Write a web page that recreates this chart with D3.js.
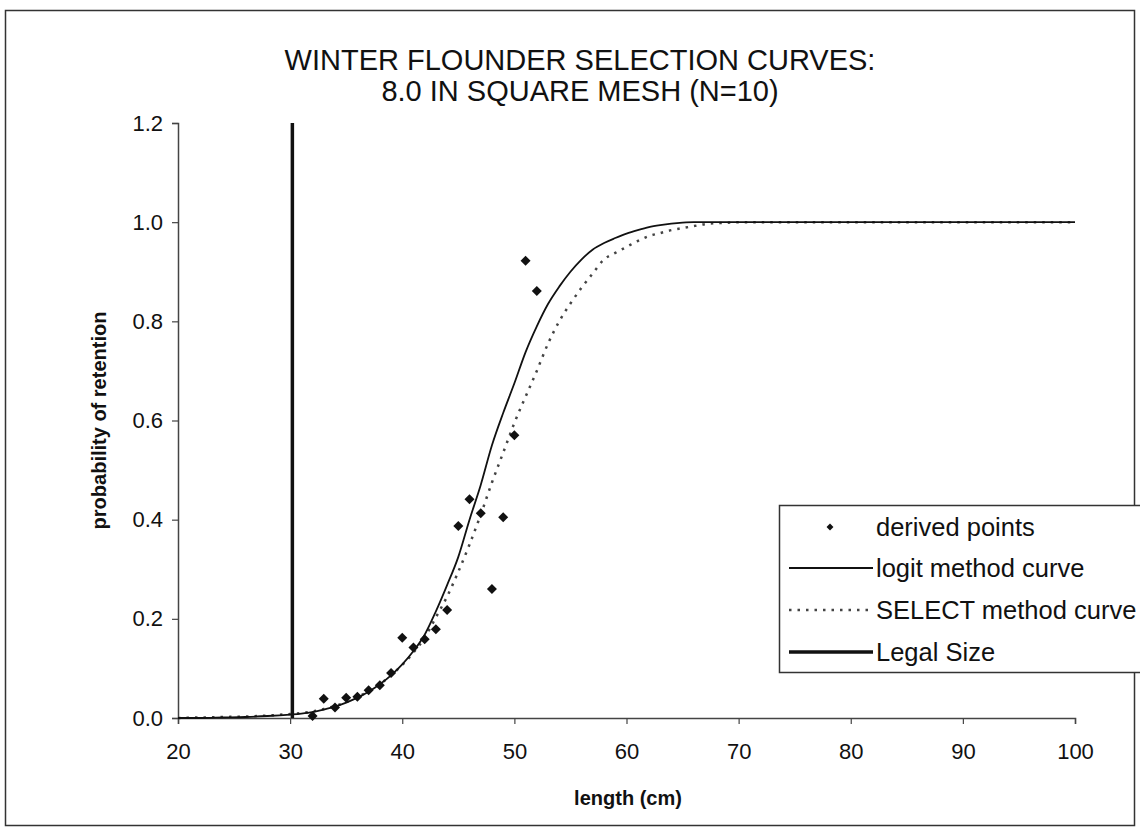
<!DOCTYPE html>
<html>
<head>
<meta charset="utf-8">
<script src="https://cdn.jsdelivr.net/npm/d3@7"></script>
<style>
  body { margin: 0; background: #fff; }
  svg text { font-family: "Liberation Sans", Arial, sans-serif; fill: #111; }
</style>
</head>
<body>
<div id="chart"></div>
<script>
// derived points (length cm, probability of retention)
const pointLengths = [32, 33, 34, 35, 36, 37, 38, 39, 40, 41, 42, 43, 44, 45, 46, 47, 48, 49, 50, 51, 52];
const pointValues = [0.004, 0.039, 0.021, 0.041, 0.043, 0.056, 0.066, 0.091, 0.162, 0.142, 0.159, 0.179, 0.218,
                     0.387, 0.441, 0.413, 0.260, 0.405, 0.570, 0.922, 0.861];

// fitted curves
const curveLengths = [20, 22, 24, 26, 28, 30, 31, 32, 33, 34, 35, 36, 37, 38, 39, 40, 41, 42, 43, 44, 45, 46, 47, 48, 49,
                      50, 51, 52, 53, 54, 55, 56, 57, 58, 59, 60, 61, 62, 63, 64, 65, 66, 67, 68, 69, 70, 80, 90, 100];
const logitValues = [0.000, 0.000, 0.001, 0.002, 0.004, 0.007, 0.009, 0.012, 0.017, 0.023, 0.031, 0.041, 0.053, 0.068,
                     0.086, 0.108, 0.135, 0.168, 0.215, 0.268, 0.325, 0.400, 0.470, 0.550, 0.615, 0.675, 0.738, 0.790,
                     0.835, 0.870, 0.900, 0.925, 0.945, 0.958, 0.968, 0.977, 0.984, 0.990, 0.994, 0.997, 0.999, 1.000,
                     1.000, 1.000, 1.000, 1.000, 1.000, 1.000, 1.000];
const selectValues = [0.000, 0.001, 0.002, 0.003, 0.005, 0.008, 0.010, 0.013, 0.018, 0.024, 0.032, 0.042, 0.054, 0.068,
                      0.086, 0.107, 0.132, 0.162, 0.203, 0.245, 0.295, 0.350, 0.410, 0.475, 0.535, 0.595, 0.648, 0.700,
                      0.755, 0.800, 0.836, 0.868, 0.897, 0.925, 0.938, 0.950, 0.962, 0.972, 0.978, 0.984, 0.988, 0.992,
                      0.996, 0.998, 0.999, 1.000, 1.000, 1.000, 1.000];

const legalSize = 30.2;
const xTicks = [20, 30, 40, 50, 60, 70, 80, 90, 100];
const yTicks = [0, 0.2, 0.4, 0.6, 0.8, 1.0, 1.2];
const legendLabels = ['derived points', 'logit method curve', 'SELECT method curve', 'Legal Size'];

const W = 1140, H = 833;
const svg = d3.select('#chart').append('svg')
    .attr('width', W)
    .attr('height', H);

svg.append('rect').attr('width', W).attr('height', H).attr('fill', '#fff');

// outer chart border
svg.append('rect')
    .attr('x', 5.5).attr('y', 10.5)
    .attr('width', 1129).attr('height', 815)
    .attr('fill', 'none')
    .attr('stroke', '#333')
    .attr('stroke-width', 1.5);

const x = d3.scaleLinear().domain([20, 100]).range([178, 1075]);
const y = d3.scaleLinear().domain([0, 1.2]).range([718, 123]);

// title
const title = svg.append('text')
    .attr('text-anchor', 'middle')
    .style('font-size', '29px');
title.append('tspan').attr('x', 580).attr('y', 70).text('WINTER FLOUNDER SELECTION CURVES:');
title.append('tspan').attr('x', 580).attr('y', 101).text('8.0 IN SQUARE MESH (N=10)');

// axes
const xAxis = svg.append('g')
    .attr('transform', `translate(0,${y(0)})`)
    .call(d3.axisBottom(x).tickValues(xTicks).tickSize(6).tickPadding(19).tickFormat(d3.format('d')));
const yAxis = svg.append('g')
    .attr('transform', `translate(${x(20)},0)`)
    .call(d3.axisLeft(y).tickValues(yTicks).tickSize(6).tickPadding(9).tickFormat(d3.format('.1f')));

[xAxis, yAxis].forEach(a => {
    a.select('.domain').attr('stroke', '#444').attr('stroke-width', 1.5);
    a.selectAll('.tick line').attr('stroke', '#444').attr('stroke-width', 1.2);
    a.selectAll('.tick text').style('font-size', '22px').attr('fill', '#111');
});

svg.append('text')
    .attr('x', 628).attr('y', 805)
    .attr('text-anchor', 'middle')
    .style('font-size', '20px')
    .style('font-weight', 'bold')
    .text('length (cm)');

svg.append('text')
    .attr('transform', `translate(106,${(y(0) + y(1.2)) / 2}) rotate(-90)`)
    .attr('text-anchor', 'middle')
    .style('font-size', '20px')
    .style('font-weight', 'bold')
    .text('probability of retention');

// legal size line
svg.append('line')
    .attr('x1', x(legalSize)).attr('x2', x(legalSize))
    .attr('y1', y(0)).attr('y2', y(1.2))
    .attr('stroke', '#111')
    .attr('stroke-width', 3.5);

const curveData = key => curveLengths.map((l, i) => ({ l, v: key[i] }));
const line = d3.line().x(d => x(d.l)).y(d => y(d.v)).curve(d3.curveMonotoneX);

svg.append('path')
    .datum(curveData(selectValues))
    .attr('d', line)
    .attr('fill', 'none')
    .attr('stroke', '#444')
    .attr('stroke-width', 2.5)
    .attr('stroke-dasharray', '2.5,6');

svg.append('path')
    .datum(curveData(logitValues))
    .attr('d', line)
    .attr('fill', 'none')
    .attr('stroke', '#111')
    .attr('stroke-width', 1.8);

const diamond = d3.symbol().type(d3.symbolSquare).size(50);
svg.selectAll('.pt')
    .data(pointLengths.map((l, i) => ({ l, v: pointValues[i] })))
    .enter()
    .append('path')
    .attr('class', 'pt')
    .attr('d', diamond)
    .attr('transform', d => `translate(${x(d.l)},${y(d.v)}) rotate(45)`)
    .attr('fill', '#111');

// legend
const lg = svg.append('g');
lg.append('rect')
    .attr('x', 779.5).attr('y', 505.5)
    .attr('width', 380).attr('height', 167)
    .attr('fill', '#fff')
    .attr('stroke', '#333')
    .attr('stroke-width', 1.5);

const rowY = [527, 568, 610, 652];
legendLabels.forEach((label, i) => {
    const g = lg.append('g').attr('transform', `translate(0,${rowY[i]})`);
    if (i === 0) {
        g.append('path')
            .attr('d', d3.symbol().type(d3.symbolSquare).size(24))
            .attr('transform', 'translate(830,0) rotate(45)')
            .attr('fill', '#111');
    } else {
        g.append('line')
            .attr('x1', 789).attr('x2', 873)
            .attr('stroke', i === 2 ? '#444' : '#111')
            .attr('stroke-width', i === 3 ? 3.5 : (i === 2 ? 2.5 : 1.8))
            .attr('stroke-dasharray', i === 2 ? '2.5,6' : null);
    }
    g.append('text')
        .attr('x', 876)
        .attr('dy', '0.36em')
        .style('font-size', '25.5px')
        .text(label);
});
</script>
</body>
</html>
